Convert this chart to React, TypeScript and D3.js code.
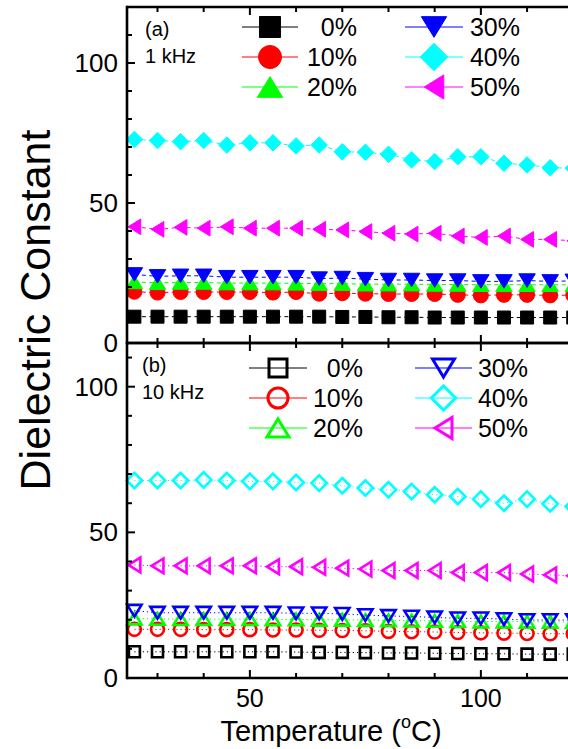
import React from 'react';
import * as d3 from 'd3';

// temperature points (deg C)
const temps = [25, 30, 35, 40, 45, 50, 55, 60, 65, 70, 75, 80, 85, 90, 95, 100, 105, 110, 115, 120];
const seriesNames = ['0%', '10%', '20%', '30%', '40%', '50%'];
const colors = ['#000000', '#ff0000', '#00ff00', '#0000ff', '#00ffff', '#ff00ff'];
const shapes = ['square', 'circle', 'triUp', 'triDown', 'diamond', 'triLeft'];

// (a) 1 kHz
const a0 = [9.4, 9.4, 9.4, 9.4, 9.4, 9.4, 9.4, 9.4, 9.4, 9.3, 9.3, 9.2, 9.2, 9.1, 9.1, 9.1, 9.1, 9.1, 9.1, 9.1];
const a10 = [18.3, 18.0, 18.2, 18.2, 18.2, 18.2, 18.0, 18.2, 17.6, 17.8, 17.6, 17.5, 17.5, 17.5, 17.2, 17.0, 17.2, 17.2, 17.0, 17.1];
const a20 = [21.8, 21.5, 21.6, 21.6, 21.4, 21.4, 21.4, 21.3, 21.2, 21.2, 21.0, 21.0, 21.0, 20.9, 20.9, 20.8, 20.8, 20.8, 20.8, 20.8];
const a30 = [24.5, 23.8, 24.0, 24.0, 23.5, 23.5, 23.5, 23.5, 23.0, 23.2, 22.8, 22.5, 22.5, 22.3, 22.3, 22.0, 22.0, 22.3, 22.0, 22.2];
const a40 = [72.7, 72.3, 71.9, 72.3, 70.7, 71.5, 71.5, 70.4, 70.7, 68.3, 68.1, 67.4, 65.4, 64.8, 66.5, 66.5, 64.2, 63.6, 62.6, 62.4];
const a50 = [41.5, 40.6, 41.3, 41.0, 41.5, 41.0, 41.0, 41.0, 40.6, 40.4, 39.8, 39.2, 38.9, 39.2, 38.2, 37.7, 38.2, 37.0, 37.0, 36.5];

// (b) 10 kHz
const b0 = [9.0, 9.0, 9.0, 9.0, 9.0, 9.0, 9.0, 8.9, 8.8, 8.8, 8.7, 8.6, 8.6, 8.5, 8.4, 8.3, 8.3, 8.2, 8.2, 8.2];
const b10 = [16.7, 16.7, 16.7, 16.6, 16.6, 16.6, 16.5, 16.5, 16.4, 16.3, 16.2, 16.0, 15.9, 15.8, 15.6, 15.5, 15.4, 15.3, 15.2, 15.2];
const b20 = [20.4, 20.3, 20.2, 20.2, 20.2, 20.2, 20.1, 20.1, 20.0, 20.0, 19.9, 19.8, 19.7, 19.6, 19.5, 19.4, 19.4, 19.3, 19.3, 19.2];
const b30 = [23.1, 22.4, 22.4, 22.4, 22.4, 22.4, 22.4, 22.2, 22.2, 22.0, 21.6, 21.3, 21.1, 20.8, 20.5, 20.5, 20.2, 19.9, 19.9, 19.9];
const b40 = [67.8, 67.8, 67.8, 68.0, 67.8, 67.5, 67.5, 67.1, 66.9, 66.0, 65.2, 64.6, 64.0, 62.9, 62.3, 61.4, 60.0, 61.4, 59.8, 58.9];
const b50 = [38.8, 38.5, 38.5, 38.5, 38.5, 38.5, 38.2, 38.2, 38.0, 37.7, 37.4, 36.9, 36.9, 36.9, 36.2, 36.2, 36.2, 35.7, 35.4, 35.1];

const xMajor = [50, 100];
const xMinor = [30, 40, 60, 70, 80, 90, 110, 120];
const yMajor = [0, 50, 100];

const W = 568;
const H = 749;
const FONT = "'Liberation Sans', Arial, sans-serif";

// marker path around (0,0)
function markerPath(shape: string, s: number) {
  const h = s / 2;
  switch (shape) {
    case 'square':
      return `M${-h},${-h}h${s}v${s}h${-s}Z`;
    case 'circle':
      return d3.symbol(d3.symbolCircle, Math.PI * h * h)() as string;
    case 'triUp':
      return `M0,${-h * 0.9}L${h * 1.1},${h * 0.9}L${-h * 1.1},${h * 0.9}Z`;
    case 'triDown':
      return `M0,${h * 0.9}L${h * 1.1},${-h * 0.9}L${-h * 1.1},${-h * 0.9}Z`;
    case 'triLeft':
      return `M${-h * 0.85},0L${h * 0.85},${-h * 1.05}L${h * 0.85},${h * 1.05}Z`;
    case 'diamond':
      return `M0,${-h * 1.1}L${h * 1.1},0L0,${h * 1.1}L${-h * 1.1},0Z`;
  }
  return '';
}

const plotSize: Record<string, number> = { square: 13, circle: 15, triUp: 15, triDown: 15, diamond: 15, triLeft: 15 };
const openSize: Record<string, number> = { square: 11, circle: 13, triUp: 13, triDown: 13, diamond: 14, triLeft: 14 };
const legSize: Record<string, number> = { square: 21, circle: 23, triUp: 23, triDown: 23, diamond: 25, triLeft: 23 };

const x = d3.scaleLinear().domain([23.4, 122]).range([127, 582.5]);

function Panel({ data, yTop, yBottom, yMax, open, tag, freq, leg }: any) {
  const y = d3.scaleLinear().domain([0, yMax]).range([yBottom, yTop]);
  const line = d3.line<number>().x((_, i) => x(temps[i])).y((d) => y(d));
  const sw = 2.6;
  const yMinor = d3.range(10, yMax, 10).filter((v) => v % 50 !== 0);
  return (
    <g>
      {data.map((vals: number[], k: number) => (
        <g key={k}>
          <path
            d={line(vals) as string}
            fill="none"
            stroke={colors[k]}
            strokeWidth={1}
            strokeDasharray={open ? '1.2,3' : '4,3.5'}
          />
          {vals.map((v, i) => (
            <path
              key={i}
              transform={`translate(${x(temps[i])},${y(v)})`}
              d={markerPath(shapes[k], open ? openSize[shapes[k]] : plotSize[shapes[k]])}
              fill={open ? 'none' : colors[k]}
              stroke={colors[k]}
              strokeWidth={open ? 2.6 : 1}
            />
          ))}
        </g>
      ))}
      {/* frame */}
      <line x1={x.range()[0]} x2={W + 20} y1={yTop} y2={yTop} stroke="#000" strokeWidth={sw} />
      <line x1={x.range()[0]} x2={W + 20} y1={yBottom} y2={yBottom} stroke="#000" strokeWidth={sw} />
      <line x1={x.range()[0]} x2={x.range()[0]} y1={yTop - sw / 2} y2={yBottom + sw / 2} stroke="#000" strokeWidth={sw} />
      {/* y ticks */}
      {yMajor.map((v) => (
        <g key={'ym' + v}>
          <line x1={x.range()[0]} x2={x.range()[0] + 8} y1={y(v)} y2={y(v)} stroke="#000" strokeWidth={2} />
          <text x={118} y={y(v) + 9} textAnchor="end" fontSize={26} fontFamily={FONT}>
            {v}
          </text>
        </g>
      ))}
      {yMinor.map((v) => (
        <line key={'yn' + v} x1={x.range()[0]} x2={x.range()[0] + 5} y1={y(v)} y2={y(v)} stroke="#000" strokeWidth={2} />
      ))}
      {/* x ticks top and bottom */}
      {xMajor.concat(xMinor).map((v) => {
        const len = xMajor.includes(v) ? 8 : 5;
        return (
          <g key={'x' + v}>
            <line x1={x(v)} x2={x(v)} y1={yBottom} y2={yBottom - len} stroke="#000" strokeWidth={2} />
            <line x1={x(v)} x2={x(v)} y1={yTop} y2={yTop + len} stroke="#000" strokeWidth={2} />
          </g>
        );
      })}
      {/* labels */}
      <text x={leg.tagX} y={yTop + 29} fontSize={20} fontFamily={FONT}>{tag}</text>
      <text x={leg.tagX} y={yTop + 56} fontSize={20} fontFamily={FONT}>{freq}</text>
      {/* legend */}
      {seriesNames.map((name, k) => {
        const col = k < 3 ? 0 : 1;
        const row = k % 3;
        const cy = leg.rowY[row];
        const lx = leg.lineX[col];
        const s = shapes[k];
        return (
          <g key={'l' + k}>
            <line x1={lx[0]} x2={lx[1]} y1={cy} y2={cy} stroke={colors[k]} strokeWidth={1} />
            <path
              transform={`translate(${(lx[0] + lx[1]) / 2},${cy})`}
              d={markerPath(s, open ? legSize[s] - 3 : legSize[s])}
              fill={open ? 'none' : colors[k]}
              stroke={colors[k]}
              strokeWidth={open ? 3 : 1}
            />
            <text x={leg.textEnd[col]} y={cy + 9} textAnchor="end" fontSize={25} fontFamily={FONT}>
              {name}
            </text>
          </g>
        );
      })}
    </g>
  );
}

export default function App() {
  return (
    <svg width={W} height={H} style={{ position: 'absolute', left: 0, top: 0, background: '#fff' }}>
      <Panel
        data={[a0, a10, a20, a30, a40, a50]}
        yTop={7}
        yBottom={343}
        yMax={120}
        open={false}
        tag="(a)"
        freq="1 kHz"
        leg={{ tagX: 145, rowY: [27, 57, 87], lineX: [[242, 298], [405, 463]], textEnd: [357, 520] }}
      />
      <Panel
        data={[b0, b10, b20, b30, b40, b50]}
        yTop={343}
        yBottom={678}
        yMax={115}
        open={true}
        tag="(b)"
        freq="10 kHz"
        leg={{ tagX: 142, rowY: [368, 398, 428], lineX: [[249, 307], [415, 472]], textEnd: [363, 528] }}
      />
      {xMajor.map((v) => (
        <text key={v} x={x(v)} y={707} textAnchor="middle" fontSize={25} fontFamily={FONT}>
          {v}
        </text>
      ))}
      <text x={331} y={741} textAnchor="middle" fontSize={29} fontFamily={FONT}>
        Temperature (<tspan fontSize={18} dy={-13}>o</tspan>
        <tspan dy={13}>C)</tspan>
      </text>
      <text
        transform="translate(50,310) rotate(-90)"
        textAnchor="middle"
        fontSize={43}
        fontFamily={FONT}
      >
        Dielectric Constant
      </text>
    </svg>
  );
}
